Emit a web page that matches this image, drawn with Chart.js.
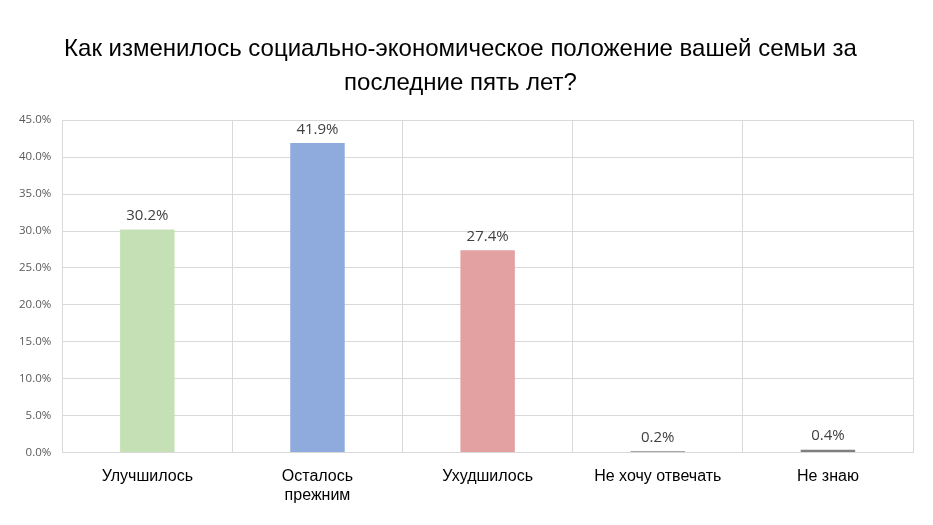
<!DOCTYPE html>
<html>
<head>
<meta charset="utf-8">
<script src="https://cdn.jsdelivr.net/npm/chart.js@4"></script>
<style>
  body { margin: 0; background: #fff; }
  #wrap { width: 933px; height: 525px; }
</style>
</head>
<body>
<div id="wrap"><canvas id="surveyChart" width="933" height="525"></canvas></div>
<script>
// Data
const categories = ['Улучшилось', ['Осталось', 'прежним'], 'Ухудшилось', 'Не хочу отвечать', 'Не знаю'];
const shares = [30.2, 41.9, 27.4, 0.2, 0.4];
const barColors = ['#c5e0b4', '#8faadc', '#e3a1a1', '#a6a6a6', '#7f7f7f'];
const titleLines = ['Как изменилось социально-экономическое положение вашей семьи за', 'последние пять лет?'];

// Simple value labels above the bars
const valueLabels = {
    id: 'valueLabels',
    afterDatasetsDraw(chart) {
        const ctx = chart.ctx;
        const meta = chart.getDatasetMeta(0);
        ctx.save();
        ctx.font = '15px "Open Sans"';
        ctx.fillStyle = '#404040';
        ctx.textAlign = 'center';
        ctx.textBaseline = 'bottom';
        meta.data.forEach((bar, i) => {
            ctx.fillText(shares[i].toFixed(1) + '%', bar.x, bar.y - 6);
        });
        ctx.restore();
    }
};

const ctx = document.getElementById('surveyChart').getContext('2d');
new Chart(ctx, {
    type: 'bar',
    data: {
        labels: categories,
        datasets: [{
            data: shares,
            backgroundColor: barColors,
            barPercentage: 0.32,
            categoryPercentage: 1
        }]
    },
    options: {
        responsive: false,
        animation: false,
        layout: {
            padding: { left: 8, right: 20, bottom: 6 }
        },
        plugins: {
            legend: { display: false },
            tooltip: { enabled: false },
            title: {
                display: true,
                text: titleLines,
                color: '#000',
                font: { family: '"Liberation Sans", Arial', size: 24, weight: 'normal', lineHeight: 1.4 },
                padding: { top: 33, bottom: 20 }
            }
        },
        scales: {
            x: {
                grid: { color: '#d9d9d9', offset: true, drawTicks: false },
                border: { color: '#d9d9d9' },
                ticks: {
                    color: '#000',
                    font: { family: '"Liberation Sans", Arial', size: 16 },
                    padding: 14,
                    maxRotation: 0
                }
            },
            y: {
                min: 0,
                max: 45,
                grid: { color: '#d9d9d9', drawTicks: false },
                border: { display: false },
                ticks: {
                    stepSize: 5,
                    color: '#595959',
                    font: { family: '"Open Sans"', size: 11.5 },
                    padding: 11,
                    callback: v => v.toFixed(1) + '%'
                }
            }
        }
    },
    plugins: [valueLabels]
});
</script>
</body>
</html>
